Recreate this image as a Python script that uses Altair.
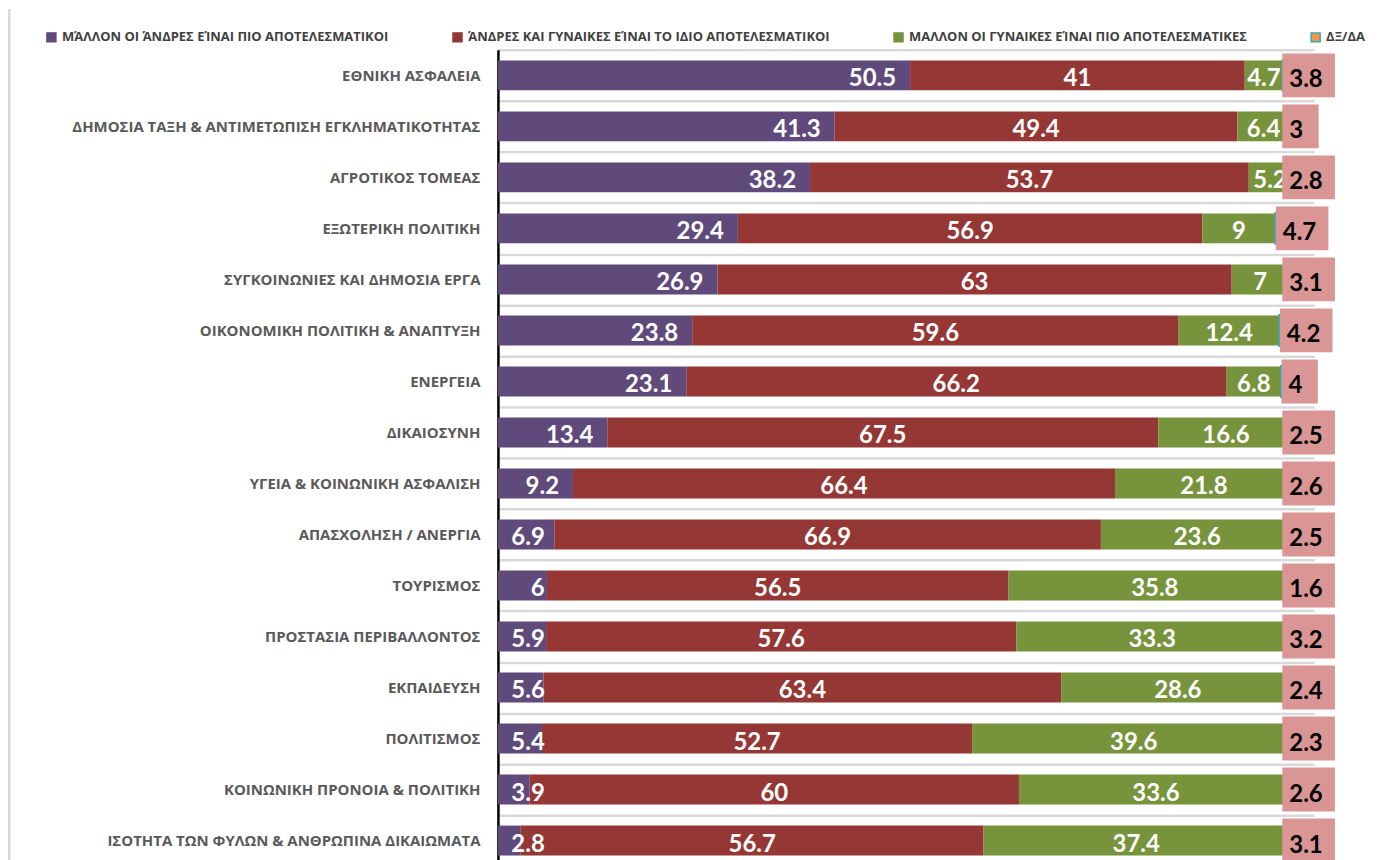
import altair as alt
import pandas as pd

categories = [
    "ΕΘΝΙΚΗ ΑΣΦΑΛΕΙΑ",
    "ΔΗΜΟΣΙΑ ΤΑΞΗ & ΑΝΤΙΜΕΤΩΠΙΣΗ ΕΓΚΛΗΜΑΤΙΚΟΤΗΤΑΣ",
    "ΑΓΡΟΤΙΚΟΣ ΤΟΜΕΑΣ",
    "ΕΞΩΤΕΡΙΚΗ ΠΟΛΙΤΙΚΗ",
    "ΣΥΓΚΟΙΝΩΝΙΕΣ ΚΑΙ ΔΗΜΟΣΙΑ ΕΡΓΑ",
    "ΟΙΚΟΝΟΜΙΚΗ ΠΟΛΙΤΙΚΗ & ΑΝΑΠΤΥΞΗ",
    "ΕΝΕΡΓΕΙΑ",
    "ΔΙΚΑΙΟΣΥΝΗ",
    "ΥΓΕΙΑ & ΚΟΙΝΩΝΙΚΗ ΑΣΦΑΛΙΣΗ",
    "ΑΠΑΣΧΟΛΗΣΗ / ΑΝΕΡΓΙΑ",
    "ΤΟΥΡΙΣΜΟΣ",
    "ΠΡΟΣΤΑΣΙΑ ΠΕΡΙΒΑΛΛΟΝΤΟΣ",
    "ΕΚΠΑΙΔΕΥΣΗ",
    "ΠΟΛΙΤΙΣΜΟΣ",
    "ΚΟΙΝΩΝΙΚΗ ΠΡΟΝΟΙΑ & ΠΟΛΙΤΙΚΗ",
    "ΙΣΟΤΗΤΑ ΤΩΝ ΦΥΛΩΝ & ΑΝΘΡΩΠΙΝΑ ΔΙΚΑΙΩΜΑΤΑ",
]

series_names = [
    "ΜΆΛΛΟΝ ΟΙ ΆΝΔΡΕΣ ΕΊΝΑΙ ΠΙΟ ΑΠΟΤΕΛΕΣΜΑΤΙΚΟΙ",
    "ΆΝΔΡΕΣ ΚΑΙ ΓΥΝΑΙΚΕΣ ΕΊΝΑΙ ΤΟ ΙΔΙΟ ΑΠΟΤΕΛΕΣΜΑΤΙΚΟΙ",
    "ΜΑΛΛΟΝ ΟΙ ΓΥΝΑΙΚΕΣ ΕΊΝΑΙ ΠΙΟ ΑΠΟΤΕΛΕΣΜΑΤΙΚΕΣ",
    "ΔΞ/ΔΑ",
]

men_more = [50.5, 41.3, 38.2, 29.4, 26.9, 23.8, 23.1, 13.4, 9.2, 6.9, 6, 5.9, 5.6, 5.4, 3.9, 2.8]
equal = [41, 49.4, 53.7, 56.9, 63, 59.6, 66.2, 67.5, 66.4, 66.9, 56.5, 57.6, 63.4, 52.7, 60, 56.7]
women_more = [4.7, 6.4, 5.2, 9, 7, 12.4, 6.8, 16.6, 21.8, 23.6, 35.8, 33.3, 28.6, 39.6, 33.6, 37.4]
dk = [3.8, 3, 2.8, 4.7, 3.1, 4.2, 4, 2.5, 2.6, 2.5, 1.6, 3.2, 2.4, 2.3, 2.6, 3.1]

fill_colors = ["#5F4A7B", "#953735", "#77933C", "#F79646"]
stroke_colors = ["#5F4A7B", "#953735", "#77933C", "#31A9BE"]

rows = []
for i, c in enumerate(categories):
    for j, vals in enumerate([men_more, equal, women_more, dk]):
        rows.append({"cat": c, "series": series_names[j], "value": vals[i], "k": j})
df = pd.DataFrame(rows)

legend = alt.Legend(
    orient="none", legendX=-454, legendY=-19, direction="horizontal", columns=4,
    columnPadding=61, symbolType="square", symbolSize=81, symbolStrokeWidth=1.5,
    labelFont="Open Sans", labelFontWeight="bold", labelFontSize=13, labelColor="#404040",
    labelLimit=0, padding=0, title=None, labelOffset=4,
)

y_enc = alt.Y(
    "cat:N", sort=categories,
    scale=alt.Scale(paddingInner=0, paddingOuter=0),
    axis=alt.Axis(
        title=None, ticks=False, tickSize=0, labelFont="Open Sans", labelFontWeight="bold",
        labelFontSize=15, labelColor="#595959", labelPadding=18, labelLimit=0,
        domainColor="black", domainWidth=2.5, grid=True, gridColor="#D9D9D9",
        gridWidth=2.5, tickBand="extent",
    ),
)
x_scale = alt.Scale(domain=[0, 1], nice=False, zero=True)

base = alt.Chart(df).transform_stack(
    as_=["x0", "x1"], stack="value", groupby=["cat"], offset="normalize",
    sort=[alt.SortField("k", order="ascending")],
).transform_calculate(
    mid="(datum.x0 + datum.x1) / 2",
    label="format(datum.value, '.1~f')",
)

bars = base.mark_bar(size=30).encode(
    x=alt.X("x0:Q", scale=x_scale, axis=None),
    x2="x1:Q",
    y=y_enc,
    color=alt.Color("series:N", scale=alt.Scale(domain=series_names, range=fill_colors), legend=legend),
    stroke=alt.Stroke("series:N", scale=alt.Scale(domain=series_names, range=stroke_colors), legend=legend),
    strokeWidth=alt.condition(alt.datum.k == 3, alt.value(3), alt.value(0)),
)

purple_text = base.transform_filter(alt.datum.k == 0).transform_calculate(
    px="max(datum.x1, 0.0745)"
).mark_text(
    align="right", baseline="middle", dx=-14, dy=4, color="white",
    font="Lato", fontWeight="bold", fontSize=24,
).encode(x=alt.X("px:Q", scale=x_scale, axis=None), y=y_enc, text="label:N")

mid_text = base.transform_filter((alt.datum.k == 1) | (alt.datum.k == 2)).mark_text(
    align="center", baseline="middle", dy=4, color="white",
    font="Lato", fontWeight="bold", fontSize=24,
).encode(x=alt.X("mid:Q", scale=x_scale, axis=None), y=y_enc, text="label:N")

dk_base = base.transform_filter(alt.datum.k == 3).transform_calculate(
    bx="min(datum.x0, 0.961)",
).transform_calculate(
    bx2="datum.bx + (length(datum.label) > 1 ? 0.0645 : 0.0445)",
)

dk_box = dk_base.mark_bar(size=44, color="#DA9694").encode(
    x=alt.X("bx:Q", scale=x_scale, axis=None), x2="bx2:Q", y=y_enc,
)

dk_text = dk_base.mark_text(
    align="left", baseline="middle", dx=7, dy=5, color="black",
    font="Lato", fontWeight="bold", fontSize=24,
).encode(x=alt.X("bx:Q", scale=x_scale, axis=None), y=y_enc, text="label:N")

frame = alt.Chart(pd.DataFrame({"a": [0]})).mark_rule(color="#D9D9D9", strokeWidth=3).encode(
    x=alt.value(-490), y=alt.value(-41), y2=alt.value(900),
)

chart = alt.layer(frame, bars, purple_text, mid_text, dk_box, dk_text).properties(
    width=818, height=818,
    autosize=alt.AutoSizeParams(type="none"),
    padding={"left": 491, "top": 41, "right": 60, "bottom": 0},
).configure_view(stroke=None)

chart.save("out.html", embed_options={"renderer": "svg", "actions": False})
